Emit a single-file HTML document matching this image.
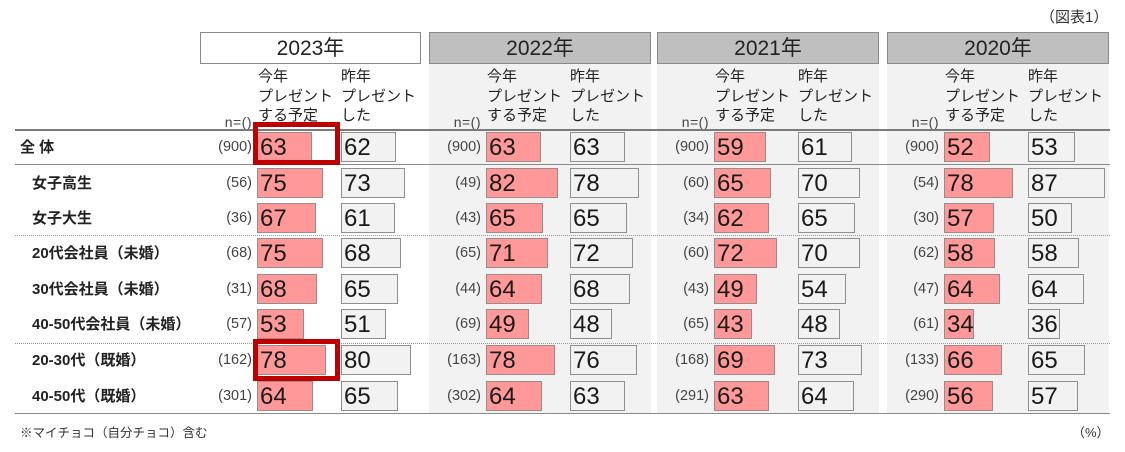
<!DOCTYPE html>
<html><head><meta charset="utf-8">
<style>
*{margin:0;padding:0}
body{width:1125px;height:452px;background:#fff;position:relative;overflow:hidden;font-family:"Liberation Sans","Noto Sans CJK JP",sans-serif;color:#222}
.a{position:absolute;white-space:nowrap}
.panel{position:absolute;top:64px;height:350px;width:222px;background:#f2f2f2}
.hd{position:absolute;top:32px;height:32px;box-sizing:border-box;border:1px solid #8a8a8a;background:#bfbfbf;font-size:21px;line-height:31px;text-align:center;color:#222}
.ch{position:absolute;top:67px;font-size:15px;line-height:19.5px;color:#222;white-space:nowrap}
.nn{position:absolute;top:112px;width:60px;text-align:right;font-size:14px;line-height:20px;color:#444;letter-spacing:0.5px}
.b{position:absolute;height:30px;box-sizing:border-box;font-size:24px;line-height:29px;padding-left:2px;color:#1a1a1a;white-space:nowrap;overflow:visible}
.k{background:#ff9999;border:1.5px solid #9a8a8a}
.z{background:#f2f2f2;border:1.5px solid #8f8f8f}
.n{position:absolute;width:60px;height:30px;text-align:right;font-size:14.5px;line-height:31px;color:#444}
.lb{position:absolute;left:32px;height:30px;font-size:15px;font-weight:bold;line-height:31px;color:#222;white-space:nowrap}
.r0{top:132px}.r1{top:168px}.r2{top:203px}.r3{top:238px}.r4{top:274px}.r5{top:309px}.r6{top:345px}.r7{top:381px}
.k0{left:257px}.k1{left:486px}.k2{left:714px}.k3{left:944px}
.z0{left:341px}.z1{left:570px}.z2{left:798px}.z3{left:1028px}
.n0{left:192px}.n1{left:421px}.n2{left:649px}.n3{left:879px}
.ln{position:absolute;left:15px;width:1095px}
.red{position:absolute;left:253px;width:87px;box-sizing:border-box;border:5px solid #c00000;z-index:5}
</style></head><body>

<div class="a" style="left:1040px;top:8px;font-size:15px;line-height:20px;color:#333">（図表1）</div>

<!-- panels -->
<div class="panel" style="left:429px"></div>
<div class="panel" style="left:657px"></div>
<div class="panel" style="left:887px"></div>

<!-- header boxes -->
<div class="hd" style="left:200px;width:221px;background:#fff">2023年</div>
<div class="hd" style="left:429px;width:222px">2022年</div>
<div class="hd" style="left:657px;width:222px">2021年</div>
<div class="hd" style="left:887px;width:222px">2020年</div>

<!-- column headers -->
<div class="ch" style="left:258px">今年<br>プレゼント<br>する予定</div>
<div class="ch" style="left:341px">昨年<br>プレゼント<br>した</div>
<div class="ch" style="left:487px">今年<br>プレゼント<br>する予定</div>
<div class="ch" style="left:570px">昨年<br>プレゼント<br>した</div>
<div class="ch" style="left:715px">今年<br>プレゼント<br>する予定</div>
<div class="ch" style="left:798px">昨年<br>プレゼント<br>した</div>
<div class="ch" style="left:945px">今年<br>プレゼント<br>する予定</div>
<div class="ch" style="left:1028px">昨年<br>プレゼント<br>した</div>
<div class="nn n0">n=()</div>
<div class="nn n1">n=()</div>
<div class="nn n2">n=()</div>
<div class="nn n3">n=()</div>

<!-- lines -->
<div class="ln" style="top:129px;border-top:2px solid #7a7a7a"></div>
<div class="ln" style="top:164px;border-top:1.5px solid #8a8a8a"></div>
<div class="ln" style="top:235px;border-top:1.5px dotted #999"></div>
<div class="ln" style="top:343px;border-top:1.5px dotted #999"></div>
<div class="ln" style="top:413px;border-top:1.5px solid #8a8a8a"></div>

<!-- row labels -->
<div class="lb r0" style="left:20px">全 体</div>
<div class="lb r1">女子高生</div>
<div class="lb r2">女子大生</div>
<div class="lb r3">20代会社員（未婚）</div>
<div class="lb r4">30代会社員（未婚）</div>
<div class="lb r5">40-50代会社員（未婚）</div>
<div class="lb r6">20-30代（既婚）</div>
<div class="lb r7">40-50代（既婚）</div>

<!-- row 0 -->
<div class="n n0 r0">(900)</div><div class="b k k0 r0" style="width:55px">63</div><div class="b z z0 r0" style="width:55px">62</div>
<div class="n n1 r0">(900)</div><div class="b k k1 r0" style="width:55px">63</div><div class="b z z1 r0" style="width:55px">63</div>
<div class="n n2 r0">(900)</div><div class="b k k2 r0" style="width:52px">59</div><div class="b z z2 r0" style="width:54px">61</div>
<div class="n n3 r0">(900)</div><div class="b k k3 r0" style="width:46px">52</div><div class="b z z3 r0" style="width:47px">53</div>
<!-- row 1 -->
<div class="n n0 r1">(56)</div><div class="b k k0 r1" style="width:66px">75</div><div class="b z z0 r1" style="width:64px">73</div>
<div class="n n1 r1">(49)</div><div class="b k k1 r1" style="width:72px">82</div><div class="b z z1 r1" style="width:69px">78</div>
<div class="n n2 r1">(60)</div><div class="b k k2 r1" style="width:57px">65</div><div class="b z z2 r1" style="width:62px">70</div>
<div class="n n3 r1">(54)</div><div class="b k k3 r1" style="width:69px">78</div><div class="b z z3 r1" style="width:77px">87</div>
<!-- row 2 -->
<div class="n n0 r2">(36)</div><div class="b k k0 r2" style="width:59px">67</div><div class="b z z0 r2" style="width:54px">61</div>
<div class="n n1 r2">(43)</div><div class="b k k1 r2" style="width:57px">65</div><div class="b z z1 r2" style="width:57px">65</div>
<div class="n n2 r2">(34)</div><div class="b k k2 r2" style="width:55px">62</div><div class="b z z2 r2" style="width:57px">65</div>
<div class="n n3 r2">(30)</div><div class="b k k3 r2" style="width:50px">57</div><div class="b z z3 r2" style="width:44px">50</div>
<!-- row 3 -->
<div class="n n0 r3">(68)</div><div class="b k k0 r3" style="width:66px">75</div><div class="b z z0 r3" style="width:60px">68</div>
<div class="n n1 r3">(65)</div><div class="b k k1 r3" style="width:62px">71</div><div class="b z z1 r3" style="width:63px">72</div>
<div class="n n2 r3">(60)</div><div class="b k k2 r3" style="width:63px">72</div><div class="b z z2 r3" style="width:62px">70</div>
<div class="n n3 r3">(62)</div><div class="b k k3 r3" style="width:51px">58</div><div class="b z z3 r3" style="width:51px">58</div>
<!-- row 4 -->
<div class="n n0 r4">(31)</div><div class="b k k0 r4" style="width:60px">68</div><div class="b z z0 r4" style="width:57px">65</div>
<div class="n n1 r4">(44)</div><div class="b k k1 r4" style="width:56px">64</div><div class="b z z1 r4" style="width:60px">68</div>
<div class="n n2 r4">(43)</div><div class="b k k2 r4" style="width:43px">49</div><div class="b z z2 r4" style="width:48px">54</div>
<div class="n n3 r4">(47)</div><div class="b k k3 r4" style="width:56px">64</div><div class="b z z3 r4" style="width:56px">64</div>
<!-- row 5 -->
<div class="n n0 r5">(57)</div><div class="b k k0 r5" style="width:47px">53</div><div class="b z z0 r5" style="width:45px">51</div>
<div class="n n1 r5">(69)</div><div class="b k k1 r5" style="width:43px">49</div><div class="b z z1 r5" style="width:42px">48</div>
<div class="n n2 r5">(65)</div><div class="b k k2 r5" style="width:38px">43</div><div class="b z z2 r5" style="width:42px">48</div>
<div class="n n3 r5">(61)</div><div class="b k k3 r5" style="width:30px">34</div><div class="b z z3 r5" style="width:32px">36</div>
<!-- row 6 -->
<div class="n n0 r6">(162)</div><div class="b k k0 r6" style="width:69px">78</div><div class="b z z0 r6" style="width:70px">80</div>
<div class="n n1 r6">(163)</div><div class="b k k1 r6" style="width:69px">78</div><div class="b z z1 r6" style="width:67px">76</div>
<div class="n n2 r6">(168)</div><div class="b k k2 r6" style="width:61px">69</div><div class="b z z2 r6" style="width:64px">73</div>
<div class="n n3 r6">(133)</div><div class="b k k3 r6" style="width:58px">66</div><div class="b z z3 r6" style="width:57px">65</div>
<!-- row 7 -->
<div class="n n0 r7">(301)</div><div class="b k k0 r7" style="width:56px">64</div><div class="b z z0 r7" style="width:57px">65</div>
<div class="n n1 r7">(302)</div><div class="b k k1 r7" style="width:56px">64</div><div class="b z z1 r7" style="width:55px">63</div>
<div class="n n2 r7">(291)</div><div class="b k k2 r7" style="width:55px">63</div><div class="b z z2 r7" style="width:56px">64</div>
<div class="n n3 r7">(290)</div><div class="b k k3 r7" style="width:49px">56</div><div class="b z z3 r7" style="width:50px">57</div>

<!-- highlight boxes -->
<div class="red" style="top:122px;height:43px"></div>
<div class="red" style="top:339px;height:42px"></div>

<!-- footer -->
<div class="a" style="left:20px;top:424px;font-size:12.5px;line-height:18px;color:#333">※マイチョコ（自分チョコ）含む</div>
<div class="a" style="left:1072px;top:424px;font-size:13px;line-height:18px;color:#333">（%）</div>

</body></html>
